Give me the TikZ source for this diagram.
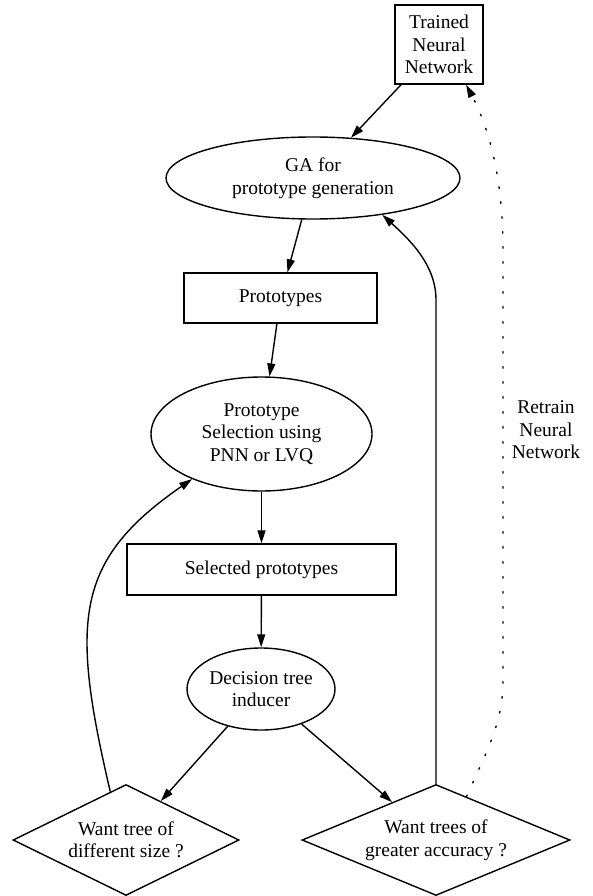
\documentclass[tikz,border=0pt]{standalone}
\usepackage{fontspec}
\setmainfont{Liberation Serif}
\usetikzlibrary{shapes.geometric,arrows.meta}

\begin{document}
\begin{tikzpicture}[x=1pt,y=-1pt,
  every node/.style={font=\rmfamily\fontsize{19.5}{22.5}\selectfont, align=center, inner sep=0pt},
  box/.style={draw, line width=1.4pt, rectangle},
  oval/.style={draw, line width=1.4pt, ellipse},
  query/.style={draw, line width=1.4pt, diamond, aspect=2.4},
  edge/.style={line width=1.4pt, -{Triangle[length=13pt,width=8pt]}}]
  \useasboundingbox (0,0) rectangle (592,896);
  % Generation
  \node[box, minimum width=88, minimum height=79] (tnn) at (439,44.5) {Trained\\Neural\\Network};
  \node[oval, minimum width=294, minimum height=82] (ga) at (313,178) {GA for\\prototype generation};
  \node[box, minimum width=193, minimum height=50] (proto) at (280.5,298) {Prototypes};
  % Selection
  \node[oval, minimum width=221, minimum height=114] (sel) at (261.5,434) {Prototype\\Selection using\\PNN or LVQ};
  \node[box, minimum width=269, minimum height=51] (selp) at (261.5,569.5) {Selected prototypes};
  \node[oval, minimum width=148, minimum height=82] (dec) at (261,689) {Decision tree\\inducer};
  % Questions
  \node[query, minimum width=226, minimum height=111] (size) at (126,840) {Want tree of\\different size ?};
  \node[query, minimum width=268, minimum height=111] (acc) at (436,840) {Want trees of\\greater accuracy ?};
  % Arrows
  \draw[edge] (tnn) -- (ga);
  \draw[edge] (ga) -- (proto);
  \draw[edge] (proto) -- (sel);
  \draw[edge] (sel) -- (selp);
  \draw[edge] (selp) -- (dec);
  \draw[edge] (dec) -- (size);
  \draw[edge] (dec) -- (acc);
  % Loops back
  \draw[edge] (size.108) .. controls (70,620) and (75,560) .. (sel.213);
  \draw[edge] (acc.north) -- (436,300) .. controls (436,265) and (410,240) .. (ga.-28);
  \draw[edge, line cap=round, dash pattern=on 1.6pt off 13.4pt]
    (acc.55) .. controls (490,745) and (503,720) .. (503,680)
    -- (503,250) .. controls (503,180) and (490,130) .. (tnn.-56);
  \node (retrain) at (546,430) {Retrain\\Neural\\Network};
\end{tikzpicture}
\end{document}
